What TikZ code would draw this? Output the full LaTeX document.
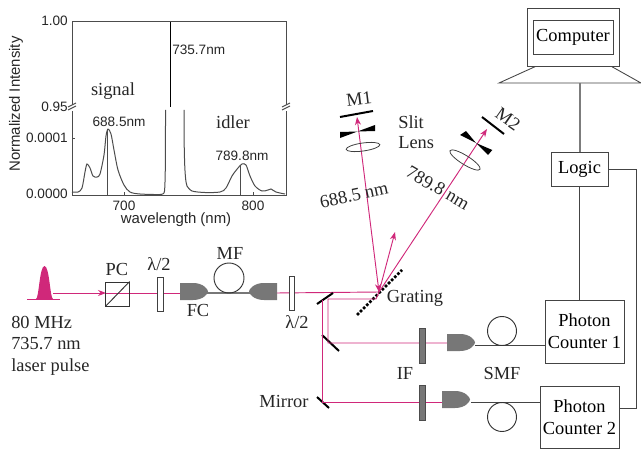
\documentclass[tikz,border=0pt]{standalone}
\usepackage{fontspec}
\setmainfont{Liberation Serif}
\setsansfont{Liberation Sans}
\usetikzlibrary{arrows.meta,calc}
\definecolor{beamcol}{HTML}{D0287A}
\definecolor{fcgrey}{HTML}{777777}
\definecolor{boxcol}{HTML}{444444}
\tikzset{
  lab/.style={font=\fontsize{13.8}{16.5}\selectfont, inner sep=0pt, text=black!85},
  plotlab/.style={font=\sffamily\fontsize{10.2}{12}\selectfont, inner sep=0pt, text=black!85},
  axlab/.style={font=\sffamily\fontsize{11.2}{13}\selectfont, inner sep=0pt, text=black!85},
  beam/.style={beamcol, line width=0.7pt},
  beamarrow/.style={beam, -{Stealth[length=6pt,width=4.5pt]}},
  mirror/.style={black, line width=1.5pt},
  box/.style={draw=boxcol, line width=0.65pt, inner sep=0pt, align=center},
  wire/.style={boxcol, line width=0.65pt},
  plate/.style={draw=black!75, line width=0.6pt},
  lens/.style={draw=black!75, line width=0.6pt},
  curve/.style={black!70, line width=0.75pt},
  coupler/.pic={
    \fill[fcgrey] (0,-8.5) -- (13,-8.5) .. controls (23,-8.5) and (28,-2.5) .. (28,0)
      .. controls (28,2.5) and (23,8.5) .. (13,8.5) -- (0,8.5) -- cycle;
  }
}
\begin{document}
\begin{tikzpicture}[x=0.75pt,y=-0.75pt]
  \useasboundingbox (0,0) rectangle (641,449);

  % Spectrum Frame
  \draw[curve] (72,105) -- (72,22) -- (286,22) -- (286,105);
  \draw[curve] (72,111) -- (72,195) -- (286,195) -- (286,111);
  \draw[curve] (68,110) -- (76,106);
  \draw[curve] (68,107) -- (76,103);
  \draw[curve] (282,110) -- (290,106);
  \draw[curve] (282,107) -- (290,103);
  \draw[curve] (72,138) -- (75,138);
  \draw[curve] (124,195) -- (124,192);
  \draw[curve] (253,195) -- (253,192);

  % Spectrum Curves
  \draw[curve] plot[smooth,tension=0.5] coordinates {(72,192) (78,192) (82,188) (85,172) (87,164) (90,168) (93,176) (97,177) (100,174) (104,155) (106,136) (108,129) (111,134) (114,150) (118,170) (124,185) (130,192) (140,194) (160,194.5) (164,193)};
  \draw[curve] (164,193) .. controls (165.5,193) and (165.5,150) .. (165.5,110);
  \draw[curve] (184,110) .. controls (184,150) and (184.5,180) .. (187,186);
  \draw[curve] plot[smooth,tension=0.5] coordinates {(187,186) (192,191) (205,192.5) (220,192) (226,188) (232,176) (238,168) (242,164) (246,165) (250,176) (255,186) (262,191) (268,190) (271,189) (276,192) (285,194)};
  \draw[black, line width=1pt] (170.5,22) -- (170.5,107);
  \draw[curve] (107,129) -- (107,195);
  \draw[curve] (240.5,165) -- (240.5,195);

  % Spectrum Labels
  \node[plotlab, anchor=east] (t100) at (68,21) {1.00};
  \node[plotlab, anchor=east] (t095) at (68,107) {0.95};
  \node[plotlab, anchor=east] (t0001) at (68,138) {0.0001};
  \node[plotlab, anchor=east] (t0000) at (68,194) {0.0000};
  \node[plotlab] (t700) at (124,206) {700};
  \node[plotlab] (t800) at (253,206) {800};
  \node[axlab] (xlabel) at (176,220) {wavelength (nm)};
  \node[axlab, rotate=90] (ylabel) at (16,104) {Normalized Intensity};
  \node[plotlab, anchor=west] (pump) at (172,50) {735.7nm};
  \node[plotlab] (sigpeak) at (119,122) {688.5nm};
  \node[plotlab] (idlpeak) at (242,156) {789.8nm};
  \node[lab] (signal) at (113,91) {signal};
  \node[lab] (idler) at (233,122) {idler};

  % Laser Pulse
  \fill[beamcol] (36,299) .. controls (39,298) and (39.5,266) .. (44.5,266)
    .. controls (49.5,266) and (50,298) .. (53,299) -- cycle;
  \draw[beam] (27,299) -- (60,299);

  % Beam Points
  \coordinate (gratpt) at (379,292);
  \coordinate (split) at (328,299);
  \coordinate (mirrora) at (328,343);
  \coordinate (mirrorb) at (322,402);

  % Input Beam
  \draw[beamarrow] (53,293) -- (106,293);
  \draw[beam] (106,293) -- (181,293);
  \draw[beam] (276,293) -- (gratpt);

  % Polarizing Cube
  \node[box, draw=black!80, minimum width=17.5pt, minimum height=18pt] (pc) at (117.5,294) {};
  \draw[black!80, line width=0.7pt] (pc.south west) -- (pc.north east);

  % Half-Wave Plates
  \filldraw[plate, fill=white] (157,277) rectangle (163,311);
  \filldraw[plate, fill=white] (289,276) rectangle (294,310);

  % Fiber Couplers and MF
  \pic at (180,291.5) {coupler};
  \pic[xscale=-1] at (277,291.5) {coupler};
  \draw[fcgrey, line width=1pt] (205,293) -- (252,293);
  \draw[black!80, line width=0.7pt] (229,278) circle (15);

  % Mirrors
  \draw[mirror] (317,304) -- (333,293);
  \draw[mirror] (322,335) -- (339,351);
  \draw[mirror] (317,397) -- (329,408);
  \draw[mirror] (340,117) -- (373,111);
  \draw[mirror] (482,117) -- (504,134);

  % Grating
  \draw[black, line width=2pt, dash pattern=on 2pt off 1.3pt] (357,315) -- (402,270);

  % Return Beams
  \draw[beam] (gratpt) -- (376,299) -- (split) -- (mirrora) -- (447,343);
  \draw[beam] (322,300) -- (mirrorb) -- (442,402);
  \draw[beam, {Stealth[length=6pt,width=4.5pt]}-{Stealth[length=6pt,width=4.5pt]}] (gratpt) -- (357,117);
  \draw[beamarrow] (gratpt) -- (395,232);
  \draw[beamarrow] (gratpt) -- (487,129);

  % Slits
  \fill[black] (340,132) -- (357.5,131.5) -- (375,125) -- (375,131) -- (357.5,131.5) -- (340,138) -- cycle;
  \fill[black] (460,135) -- (466,131) -- (476,143) -- (492.3,150) -- (488,155) -- (476,143) -- cycle;

  % Lenses
  \draw[lens, rotate around={8:(363,147)}] (363,147) ellipse (17 and 4);
  \draw[lens, rotate around={-32:(465,160)}] (465,160) ellipse (17.7 and 4.5);

  % Interference Filters
  \filldraw[draw=black!70, fill=fcgrey, line width=0.6pt] (419,328) rectangle (425,363);
  \filldraw[draw=black!70, fill=fcgrey, line width=0.6pt] (419,385) rectangle (425,420);

  % Detection Couplers
  \pic at (447,342.5) {coupler};
  \pic at (442,399.5) {coupler};

  % Computer and Electronics
  \node[box, minimum width=69pt, minimum height=43.5pt] (screen) at (573,37) {};
  \node[box, minimum width=60pt, minimum height=25.5pt, font=\fontsize{13.8}{16.5}\selectfont] (computer) at (573,37) {Computer};
  \node[box, minimum width=42.75pt, minimum height=25.5pt, font=\fontsize{13.8}{16.5}\selectfont] (logic) at (579.5,169) {Logic};
  \node[box, minimum width=59.25pt, minimum height=47.25pt, font=\fontsize{13.8}{16.5}\selectfont] (count1) at (584.5,331.5) {Photon\\Counter 1};
  \node[box, minimum width=59.25pt, minimum height=46.5pt, font=\fontsize{13.8}{16.5}\selectfont] (count2) at (579.5,417) {Photon\\Counter 2};

  % Computer Base
  \coordinate (basel) at (499,83);
  \coordinate (baser) at (641,83);
  \draw[wire] ($(screen.south west)+(9,0)$) -- (basel) -- (baser) -- ($(screen.south east)+(-8,0)$);

  % Connections
  \draw[boxcol!70, line width=1.5pt] (logic.north) -- (logic.north |- baser);
  \draw[wire] (logic.south) -- (logic.south |- count1.north);
  \draw[wire] (logic.east) -- (636,169) -- (636,408) -- (count2.east |- 0,408);
  \draw[wire] (475,345) -- (count1.west |- 0,345);
  \draw[wire] (471,402.5) -- (count2.west |- 0,402.5);
  \draw[black!80, line width=0.7pt] (502,331) circle (14.5);
  \draw[black!80, line width=0.7pt] (502,417) circle (14.5);

  % Setup Labels
  \node[lab] (pclab) at (117,269) {PC};
  \node[lab] (hwpa) at (159,264) {λ/2};
  \node[lab] (mflab) at (230,253) {MF};
  \node[lab] (fclab) at (198,310) {FC};
  \node[lab] (hwpb) at (297,322) {λ/2};
  \node[lab, anchor=west] (rate) at (11,322) {80 MHz};
  \node[lab, anchor=west] (wavel) at (11,344) {735.7 nm};
  \node[lab, anchor=west] (pulse) at (11,367) {laser pulse};
  \node[lab] (iflab) at (405,373) {IF};
  \node[lab] (smflab) at (502,373) {SMF};
  \node[lab] (mirlab) at (284,401) {Mirror};
  \node[lab] (gratlab) at (415,298) {Grating};
  \node[lab, rotate=7] (mone) at (359,99) {M1};
  \node[lab, rotate=-35] (mtwo) at (508,119) {M2};
  \node[lab, anchor=west] (slit) at (398,122) {Slit};
  \node[lab, anchor=west] (lenslab) at (398,143) {Lens};
  \node[lab, rotate=12] (siglab) at (354,195) {688.5 nm};
  \node[lab, rotate=-30] (idllab) at (438,188) {789.8 nm};
\end{tikzpicture}
\end{document}
